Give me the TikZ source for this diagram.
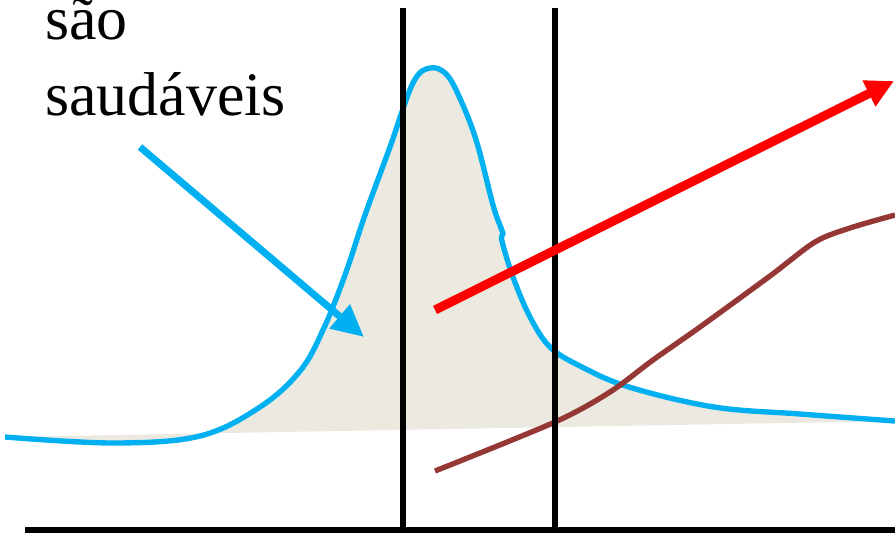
\documentclass[tikz,border=0pt]{standalone}
\usepackage{fontspec}
\newfontfamily\fonterotulo{Liberation Serif}
\usepackage{tikz}
\usetikzlibrary{positioning,arrows.meta}
\definecolor{curvablue}{RGB}{0,176,240}
\definecolor{areabege}{RGB}{236,234,224}
\definecolor{linhamarrom}{RGB}{149,55,53}
\tikzset{
    rotulo/.style={font=\fonterotulo\fontsize{44}{55}\selectfont, inner sep=0pt, anchor=base west},
    curva/.style={curvablue, line width=3.8pt, line join=round},
    corte/.style={black, line width=4.3pt},
    seta azul/.style={curvablue, line width=5pt, -{Triangle[length=0.8cm,width=0.75cm]}},
    seta vermelha/.style={red, line width=6.4pt, -{Triangle[length=0.7cm,width=0.68cm]}},
    marrom/.style={linhamarrom, line width=3.8pt}
}
\def\pontoscurva{(5,437) (114,443) (200,436) (260,407) (300,371) (323,330) (345,275) (365,215) (390,147) (413,83) (430,68) (447,75) (462,103) (477,143) (493,205) (501,228) (503,234) (502,241) (513,277) (530,317) (550,347) (580,366) (629,387) (714,407) (800,414) (895,421)}

\begin{document}
\begin{tikzpicture}[x=0.025cm, y=-0.025cm]
    \useasboundingbox (0,0) rectangle (895,534);

    % Área sob a curva
    \fill[areabege] plot[smooth, tension=0.6] coordinates {\pontoscurva} -- cycle;

    % Curva
    \draw[curva] plot[smooth, tension=0.6] coordinates {\pontoscurva};

    % Linha marrom
    \draw[marrom] plot[smooth] coordinates {(435,471) (555,422) (610,392) (653,360) (700,327) (770,276) (815,242) (850,228) (895,215)};

    % Eixo e cortes
    \coordinate (eixoA) at (25,530);
    \coordinate (eixoB) at (895,530);
    \coordinate (corte1a) at (403,8);
    \coordinate (corte1b) at (403,533);
    \coordinate (corte2a) at (555,8);
    \coordinate (corte2b) at (555,533);
    \draw[corte] (eixoA) -- (eixoB);
    \draw[corte] (corte1a) -- (corte1b);
    \draw[corte] (corte2a) -- (corte2b);

    % Texto
    \node[rotulo, text height=0.8cm] (sao) at (45,39) {são};
    \node[rotulo] (saudaveis) at (45,115) {saudáveis};

    % Setas
    \coordinate (azulA) at (140,147);
    \coordinate (azulB) at (364,337);
    \draw[seta azul] (azulA) -- (azulB);
    \coordinate (vermA) at (435,310);
    \coordinate (vermB) at (894,81);
    \draw[seta vermelha] (vermA) -- (vermB);

\end{tikzpicture}
\end{document}
